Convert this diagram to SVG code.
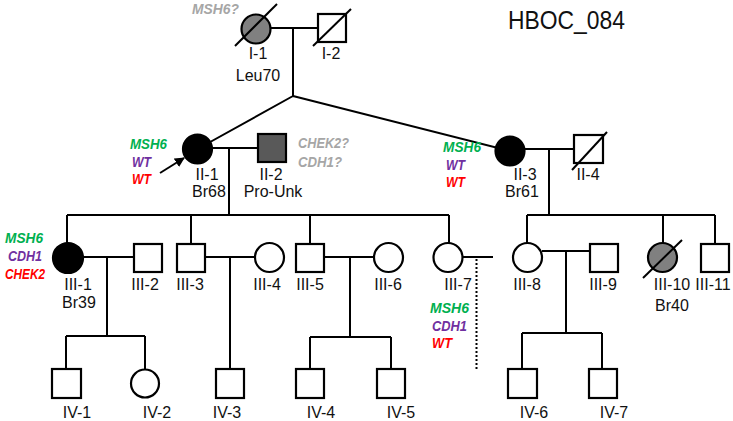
<svg xmlns="http://www.w3.org/2000/svg" width="733" height="421" viewBox="0 0 733 421">
<style>
.ln{stroke:#000;stroke-width:2;fill:none}
.sh{stroke:#000;stroke-width:2.2;fill:#fff}
.lb{font-family:"Liberation Sans",Arial,sans-serif;font-size:16px;fill:#111;text-anchor:middle}
.g{font-family:"Liberation Sans",Arial,sans-serif;font-size:15px;font-weight:bold;font-style:italic}
.gr{fill:#00b050}.pu{fill:#7030a0}.rd{fill:#ff0000}.gy{fill:#a6a6a6}
</style>
<defs>
<marker id="ah" viewBox="0 0 10 10" refX="9" refY="5" markerWidth="5" markerHeight="5" orient="auto"><path d="M0,0L10,5L0,10z" fill="#000"/></marker>
</defs>
<g id="connectors">
<path class="ln" d="M270,28H318M293,28V96M293,96L197.5,149M293,96L510,151"/>
<path class="ln" d="M212,148H258M229,148V215M524,149H574M549,149V215"/>
<path class="ln" d="M67,215H449M67,215V243M191,215V244M310,215V244M449,215V243"/>
<path class="ln" d="M527,215H715M527,215V243M663,215V243M715,215V244"/>
<path class="ln" d="M83,257H134M107,257V336M66,336H145M66,336V369M145,336V369"/>
<path class="ln" d="M205,257H255M230,257V369"/>
<path class="ln" d="M324,257H374M350,257V337M310,337H391M310,337V369M391,337V369"/>
<path class="ln" d="M462,257H493"/>
<path class="ln" d="M476.5,259V371" stroke-dasharray="2,2"/>
<path class="ln" d="M542,251H590M566,251V333M522,333H602M522,333V369M602,333V369"/>
<path class="ln" d="M160,173L184,158" marker-end="url(#ah)"/>
</g>
<g id="I-1"><circle class="sh" cx="256" cy="29" r="14.5" style="fill:#808080"/><path class="ln" d="M235,46L277,4"/><text class="lb" x="258" y="59">I-1</text><text class="lb" x="258" y="81">Leu70</text><text class="g gy" x="192" y="14" textLength="47" lengthAdjust="spacingAndGlyphs">MSH6?</text></g>
<g id="I-2"><rect class="sh" x="318" y="14" width="28" height="28"/><path class="ln" d="M313,46L351,9"/><text class="lb" x="331" y="59">I-2</text></g>
<g id="II-1"><circle class="sh" cx="197.5" cy="149" r="14.5" style="fill:#000"/><text class="lb" x="207" y="180">II-1</text><text class="lb" x="209" y="197">Br68</text>
<text class="g gr" x="130" y="149" textLength="37" lengthAdjust="spacingAndGlyphs">MSH6</text><text class="g pu" x="132" y="167" textLength="19" lengthAdjust="spacingAndGlyphs">WT</text><text class="g rd" x="132" y="184" textLength="19" lengthAdjust="spacingAndGlyphs">WT</text></g>
<g id="II-2"><rect class="sh" x="258" y="134" width="28" height="28" style="fill:#595959"/><text class="lb" x="271" y="180">II-2</text><text class="lb" x="273" y="197">Pro-Unk</text>
<text class="g gy" x="298" y="148" textLength="51" lengthAdjust="spacingAndGlyphs">CHEK2?</text><text class="g gy" x="298" y="167" textLength="44" lengthAdjust="spacingAndGlyphs">CDH1?</text></g>
<g id="II-3"><circle class="sh" cx="510" cy="151" r="14.5" style="fill:#000"/><text class="lb" x="525" y="180">II-3</text><text class="lb" x="522" y="197">Br61</text>
<text class="g gr" x="443" y="152" textLength="38" lengthAdjust="spacingAndGlyphs">MSH6</text><text class="g pu" x="446" y="170" textLength="19" lengthAdjust="spacingAndGlyphs">WT</text><text class="g rd" x="446" y="187" textLength="19" lengthAdjust="spacingAndGlyphs">WT</text></g>
<g id="II-4"><rect class="sh" x="574" y="135" width="29" height="28"/><path class="ln" d="M572,170L607,132"/><text class="lb" x="588" y="180">II-4</text></g>
<g id="III-1"><circle class="sh" cx="68" cy="258" r="15" style="fill:#000"/><text class="lb" x="78" y="290">III-1</text><text class="lb" x="79" y="308">Br39</text>
<text class="g gr" x="5" y="243" textLength="38" lengthAdjust="spacingAndGlyphs">MSH6</text><text class="g pu" x="8" y="261" textLength="34" lengthAdjust="spacingAndGlyphs">CDH1</text><text class="g rd" x="5" y="279" textLength="40" lengthAdjust="spacingAndGlyphs">CHEK2</text></g>
<g id="III-2"><rect class="sh" x="134" y="244" width="28" height="28"/><text class="lb" x="145" y="290">III-2</text></g>
<g id="III-3"><rect class="sh" x="177" y="244" width="28" height="28"/><text class="lb" x="190" y="290">III-3</text></g>
<g id="III-4"><circle class="sh" cx="269.5" cy="257.5" r="14.5"/><text class="lb" x="267" y="290">III-4</text></g>
<g id="III-5"><rect class="sh" x="296" y="244" width="28" height="28"/><text class="lb" x="310" y="290">III-5</text></g>
<g id="III-6"><circle class="sh" cx="388.5" cy="257.5" r="14.5"/><text class="lb" x="388" y="290">III-6</text></g>
<g id="III-7"><circle class="sh" cx="448" cy="257.5" r="14.5"/><text class="lb" x="458" y="290">III-7</text>
<text class="g gr" x="430" y="313" textLength="39" lengthAdjust="spacingAndGlyphs">MSH6</text><text class="g pu" x="432" y="331" textLength="35" lengthAdjust="spacingAndGlyphs">CDH1</text><text class="g rd" x="432" y="348" textLength="20" lengthAdjust="spacingAndGlyphs">WT</text></g>
<g id="III-8"><circle class="sh" cx="527.5" cy="257.5" r="14.5"/><text class="lb" x="527" y="290">III-8</text></g>
<g id="III-9"><rect class="sh" x="590" y="244" width="28" height="28"/><text class="lb" x="603" y="290">III-9</text></g>
<g id="III-10"><circle class="sh" cx="662.5" cy="257.5" r="14.5" style="fill:#808080"/><path class="ln" d="M643,278L682,240"/><text class="lb" x="672" y="290">III-10</text><text class="lb" x="672" y="311">Br40</text></g>
<g id="III-11"><rect class="sh" x="701" y="244" width="28" height="28"/><text class="lb" x="713" y="290">III-11</text></g>
<g id="IV-1"><rect class="sh" x="52" y="369" width="29" height="29"/><text class="lb" x="77" y="418">IV-1</text></g>
<g id="IV-2"><circle class="sh" cx="145" cy="383.5" r="14"/><text class="lb" x="157" y="418">IV-2</text></g>
<g id="IV-3"><rect class="sh" x="216" y="369" width="28" height="29"/><text class="lb" x="227" y="418">IV-3</text></g>
<g id="IV-4"><rect class="sh" x="296" y="369" width="28" height="29"/><text class="lb" x="321" y="418">IV-4</text></g>
<g id="IV-5"><rect class="sh" x="377" y="369" width="28" height="29"/><text class="lb" x="401" y="418">IV-5</text></g>
<g id="IV-6"><rect class="sh" x="508" y="369" width="29" height="29"/><text class="lb" x="534" y="418">IV-6</text></g>
<g id="IV-7"><rect class="sh" x="589" y="369" width="28" height="29"/><text class="lb" x="614" y="418">IV-7</text></g>
<text x="508" y="29" font-family="'Liberation Sans',Arial,sans-serif" font-size="25" fill="#111" textLength="117" lengthAdjust="spacingAndGlyphs">HBOC_084</text>
</svg>
